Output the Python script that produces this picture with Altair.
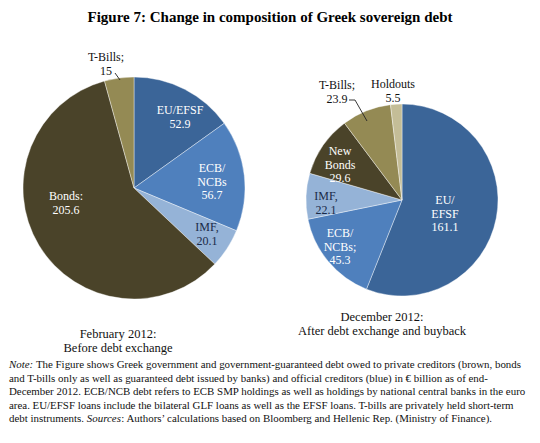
import altair as alt
import pandas as pd

# ---------------- data ----------------
title_text = "Figure 7: Change in composition of Greek sovereign debt"

feb_categories = ["EU/EFSF", "ECB/NCBs", "IMF", "Bonds", "T-Bills"]
feb_values = [52.9, 56.7, 20.1, 205.6, 15.0]
feb_label_lines = [["EU/EFSF", "52.9"], ["ECB/", "NCBs", "56.7"], ["IMF,", "20.1"],
                   ["Bonds:", "205.6"], ["T-Bills;", "15"]]

dec_categories = ["EU/EFSF", "ECB/NCBs", "IMF", "New Bonds", "T-Bills", "Holdouts"]
dec_values = [161.1, 45.3, 22.1, 29.6, 23.9, 5.5]
dec_label_lines = [["EU/", "EFSF", "161.1"], ["ECB/", "NCBs;", "45.3"], ["IMF,", "22.1"],
                   ["New", "Bonds", "29.6"], ["T-Bills;", "23.9"], ["Holdouts", "5.5"]]

feb_caption = ["February 2012:", "Before debt exchange"]
dec_caption = ["December 2012:", "After debt exchange and buyback"]

note_lines = [
    [("Note:", True), ("The Figure shows Greek government and government-guaranteed debt owed to private creditors (brown, bonds", False)],
    [("and T-bills only as well as guaranteed debt issued by banks) and official creditors (blue) in \u20ac billion as of end-", False)],
    [("December 2012. ECB/NCB debt refers to ECB SMP holdings as well as holdings by national central banks in the euro", False)],
    [("area. EU/EFSF loans include the bilateral GLF loans as well as the EFSF loans. T-bills are privately held short-term", False)],
    [("debt instruments.", False), ("Sources", True), (": Authors\u2019 calculations based on Bloomberg and Hellenic Rep. (Ministry of Finance).", False)],
]

# ---------------- styles / layout ----------------
FONT = "Liberation Serif"
color_domain = ["EU/EFSF", "ECB/NCBs", "IMF", "Bonds", "New Bonds", "T-Bills", "Holdouts"]
color_range = ["#3b6598", "#4f80bd", "#95b3d7", "#4a4329", "#4a4329", "#948a54", "#c4bd97"]

feb_center, feb_radius = (134, 188), 111
dec_center, dec_radius = (402, 200), 96

feb_anchor = {"EU/EFSF": (180, 110, "light"), "ECB/NCBs": (212, 168, "light"),
              "IMF": (207, 227, "navy"), "Bonds": (66, 196, "light"), "T-Bills": (106, 57, "dark")}
dec_anchor = {"EU/EFSF": (445, 200, "light"), "ECB/NCBs": (340, 233, "light"),
              "IMF": (326, 196, "navy"), "New Bonds": (340, 151, "light"),
              "T-Bills": (337, 85, "dark"), "Holdouts": (393, 84, "dark")}
line_gap = 13.5

leader_pts = [("feb", 0, 115, 73), ("feb", 1, 120, 80),
              ("dec", 0, 349, 100), ("dec", 1, 355, 100), ("dec", 2, 367, 121)]

note_x0, note_y0, note_gap, note_size = 9, 365, 13.5, 10.9
note_seg_x = {(0, 1): 35.9, (4, 1): 86.8, (4, 2): 121.3}

W, H = 524, 427
xs = alt.Scale(domain=[8, 8 + W], nice=False, zero=False)
ys = alt.Scale(domain=[8, 8 + H], nice=False, zero=False, reverse=True)
color_scale = alt.Scale(domain=color_domain, range=color_range)
tone_scale = alt.Scale(domain=["light", "dark", "navy"], range=["#ffffff", "#111111", "#1a2a48"])


def pie(categories, values, center, radius):
    df = pd.DataFrame({"cat": categories, "val": values, "ord": list(range(len(values)))})
    return alt.Chart(df).mark_arc(outerRadius=radius, stroke="white", strokeWidth=0.4).encode(
        theta=alt.Theta("val:Q", stack=True),
        order=alt.Order("ord:Q"),
        color=alt.Color("cat:N", scale=color_scale, legend=None),
        x=alt.value(center[0] - 8),
        y=alt.value(center[1] - 8),
    )


label_rows = []
for cats, lines, anchors in [(feb_categories, feb_label_lines, feb_anchor),
                             (dec_categories, dec_label_lines, dec_anchor)]:
    for c, ls in zip(cats, lines):
        ax, ay, tone = anchors[c]
        for i, t in enumerate(ls):
            label_rows.append({"text": t, "x": ax, "y": ay + i * line_gap, "tone": tone})
labels = pd.DataFrame(label_rows)

label_layer = alt.Chart(labels).mark_text(font=FONT, fontSize=12, baseline="middle", align="center").encode(
    x=alt.X("x:Q", scale=xs, axis=None),
    y=alt.Y("y:Q", scale=ys, axis=None),
    text="text:N",
    color=alt.Color("tone:N", scale=tone_scale, legend=None),
)

cap_rows = []
for cx, cy, lines in [(118, 334, feb_caption), (382, 317, dec_caption)]:
    for i, t in enumerate(lines):
        cap_rows.append({"text": t, "x": cx, "y": cy + i * 14})
caption_layer = alt.Chart(pd.DataFrame(cap_rows)).mark_text(font=FONT, fontSize=12.5, baseline="middle", color="#111111").encode(
    x=alt.X("x:Q", scale=xs), y=alt.Y("y:Q", scale=ys), text="text:N")

title_layer = alt.Chart(pd.DataFrame({"text": [title_text], "x": [270], "y": [17]})).mark_text(
    font=FONT, fontSize=15, fontWeight="bold", baseline="middle", color="#000000").encode(
    x=alt.X("x:Q", scale=xs), y=alt.Y("y:Q", scale=ys), text="text:N")

leader_df = pd.DataFrame(leader_pts, columns=["g", "i", "x", "y"])
leader_layer = alt.Chart(leader_df).mark_line(color="#222222", strokeWidth=0.9).encode(
    x=alt.X("x:Q", scale=xs), y=alt.Y("y:Q", scale=ys), detail="g:N", order="i:Q")

note_rows = []
for li, segs in enumerate(note_lines):
    for si, (t, it) in enumerate(segs):
        note_rows.append({"text": t, "x": note_seg_x.get((li, si), note_x0),
                          "y": note_y0 + li * note_gap, "style": "italic" if it else "normal"})
note_df = pd.DataFrame(note_rows)
note_reg = alt.Chart(note_df[note_df["style"] == "normal"]).mark_text(
    font=FONT, fontSize=note_size, align="left", baseline="middle", color="#111111").encode(
    x=alt.X("x:Q", scale=xs), y=alt.Y("y:Q", scale=ys), text="text:N")
note_it = alt.Chart(note_df[note_df["style"] == "italic"]).mark_text(
    font=FONT, fontSize=note_size, fontStyle="italic", align="left", baseline="middle", color="#111111").encode(
    x=alt.X("x:Q", scale=xs), y=alt.Y("y:Q", scale=ys), text="text:N")

chart = alt.layer(
    pie(feb_categories, feb_values, feb_center, feb_radius),
    pie(dec_categories, dec_values, dec_center, dec_radius),
    label_layer, leader_layer, caption_layer, title_layer, note_reg, note_it,
).resolve_scale(theta="independent", color="independent").properties(
    width=W, height=H, padding=0, autosize="none"
).configure_view(strokeWidth=0)

chart.save("out.html", embed_options={"renderer": "svg", "actions": False})
